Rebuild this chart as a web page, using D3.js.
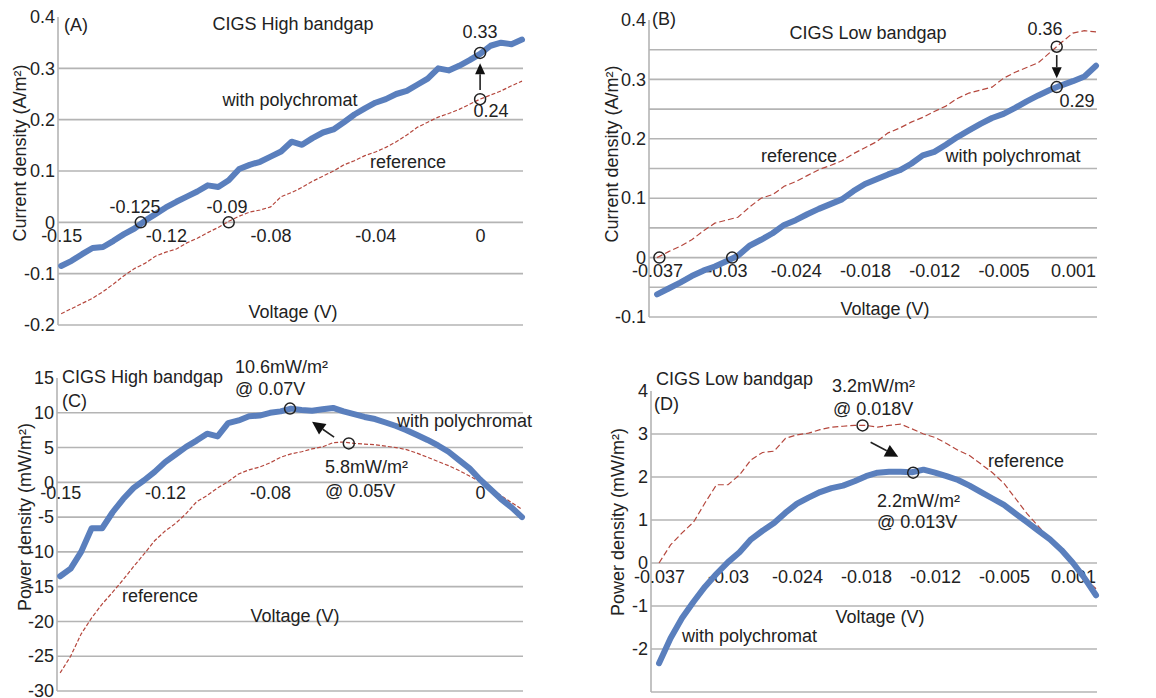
<!DOCTYPE html>
<html>
<head>
<meta charset="utf-8">
<script src="https://cdn.jsdelivr.net/npm/d3@7"></script>
<style>
  body { margin: 0; background: #fff; }
  svg text { font-family: "Liberation Sans", Arial, Helvetica, sans-serif; fill: #222; }
</style>
</head>
<body>
<svg id="chart" width="1156" height="698"></svg>
<script>
// category labels of the voltage axis (Excel style: evenly spaced, rounded)
const highVoltLabels = ['-0.15', '-0.12', '-0.08', '-0.04', '0'];
const highVoltLabelsPower = ['-0.15', '-0.12', '-0.08', '', '0']; // -0.04 sits under the 5.8mW label
const highVoltIdx = [0, 10, 20, 30, 40];
const lowVoltLabels = ['-0.037', '-0.03', '-0.024', '-0.018', '-0.012', '-0.005', '0.001'];
const lowVoltIdx = [0, 6, 12, 18, 24, 30, 36];

// (A) current density, CIGS high bandgap
const currentHighPoly = [-0.085, -0.075, -0.062, -0.05, -0.048, -0.036, -0.023, -0.012, 0.003, 0.016,
  0.029, 0.04, 0.05, 0.06, 0.072, 0.069, 0.082, 0.104, 0.112, 0.118,
  0.128, 0.138, 0.157, 0.151, 0.164, 0.175, 0.181, 0.195, 0.21, 0.222,
  0.233, 0.24, 0.25, 0.256, 0.268, 0.28, 0.3, 0.296, 0.305, 0.316,
  0.328, 0.344, 0.35, 0.347, 0.356];
const currentHighRef = [-0.178, -0.168, -0.158, -0.148, -0.135, -0.12, -0.104, -0.09, -0.08, -0.066,
  -0.058, -0.052, -0.04, -0.031, -0.02, -0.01, 0.002, 0.012, 0.02, 0.024,
  0.03, 0.05, 0.058, 0.068, 0.08, 0.09, 0.1, 0.112, 0.12, 0.13,
  0.137, 0.146, 0.157, 0.17, 0.185, 0.195, 0.205, 0.212, 0.22, 0.23,
  0.24, 0.248, 0.256, 0.266, 0.275];

// (B) current density, CIGS low bandgap
const currentLowPoly = [-0.062, -0.052, -0.042, -0.031, -0.022, -0.015, -0.006, 0.003, 0.02, 0.03,
  0.041, 0.055, 0.063, 0.073, 0.082, 0.09, 0.098, 0.112, 0.124, 0.132,
  0.14, 0.147, 0.158, 0.172, 0.178, 0.19, 0.203, 0.214, 0.225, 0.235,
  0.242, 0.252, 0.263, 0.273, 0.282, 0.29, 0.297, 0.305, 0.323];
const currentLowRef = [0, 0.01, 0.019, 0.03, 0.045, 0.058, 0.063, 0.068, 0.085, 0.1,
  0.106, 0.12, 0.128, 0.138, 0.148, 0.155, 0.163, 0.175, 0.185, 0.195,
  0.21, 0.218, 0.228, 0.236, 0.246, 0.255, 0.268, 0.277, 0.282, 0.287,
  0.302, 0.312, 0.32, 0.328, 0.345, 0.362, 0.378, 0.382, 0.38];

// (C) power density, CIGS high bandgap
const powerHighPoly = [-13.5, -12.4, -10.0, -6.6, -6.6, -4.3, -2.4, -0.8, 0.3, 1.5,
  2.9, 4.0, 5.1, 6.0, 7.0, 6.6, 8.5, 8.9, 9.5, 9.6,
  10.0, 10.2, 10.6, 10.4, 10.3, 10.5, 10.7, 10.2, 9.8, 9.4,
  9.1, 8.6, 8.1, 7.5, 6.8, 6.1, 5.3, 4.4, 3.2, 2.0,
  0.4, -1.0, -2.4, -3.6, -5.0];
const powerHighRef = [-27.4, -25.0, -21.8, -19.5, -17.5, -15.8, -14.0, -12.1, -10.3, -8.4,
  -7.0, -5.9, -4.5, -2.8, -1.9, -0.8, 0.1, 1.2, 1.8, 2.2,
  2.8, 3.6, 4.1, 4.4, 4.8, 5.1, 5.7, 5.8, 5.6, 5.5,
  5.4, 5.2, 5.0, 4.7, 4.2, 3.6, 3.0, 2.4, 1.7, 0.9,
  0.1, -0.9, -1.9, -2.9, -3.9];

// (D) power density, CIGS low bandgap
const powerLowPoly = [-2.33, -1.75, -1.28, -0.9, -0.55, -0.25, 0.02, 0.25, 0.55, 0.75,
  0.93, 1.17, 1.38, 1.52, 1.65, 1.74, 1.8, 1.9, 2.02, 2.1,
  2.12, 2.12, 2.11, 2.17, 2.1, 2.02, 1.93, 1.8, 1.65, 1.5,
  1.35, 1.15, 0.95, 0.75, 0.55, 0.3, 0.0, -0.35, -0.75];
const powerLowRef = [0, 0.42, 0.7, 0.95, 1.4, 1.82, 1.82, 2.05, 2.4, 2.57,
  2.6, 2.9, 2.98, 3.02, 3.1, 3.16, 3.18, 3.2, 3.2, 3.16,
  3.2, 3.23, 3.12, 3.0, 2.92, 2.78, 2.62, 2.5, 2.3, 2.1,
  1.85, 1.5, 1.15, 0.85, 0.55, 0.3, 0.0, -0.35, -0.6];

// value axes
const yTicksA = [-0.2, -0.1, 0, 0.1, 0.2, 0.3, 0.4];
const gridA = [-0.2, -0.1, 0, 0.1, 0.2, 0.3];
const yTicksB = [-0.1, 0, 0.1, 0.2, 0.3, 0.4];
const gridB = [-0.1, -0.05, 0, 0.05, 0.1, 0.15, 0.2, 0.25, 0.3, 0.35];
const yTicksC = [-30, -25, -20, -15, -10, -5, 0, 5, 10, 15];
const gridC = [-30, -25, -20, -15, -10, -5, 0, 5, 10];
const yTicksD = [-2, -1, 0, 1, 2, 3, 4];
const gridD = [-3, -2, -1, 0, 1, 2, 3];

// highlighted points (category index, value)
const pointsA = [[7.6, 0], [16, 0], [40, 0.33], [40, 0.24]];
const pointsB = [[0.2, 0], [6.5, 0], [34.6, 0.355], [34.6, 0.287]];
const pointsC = [[21.9, 10.6], [27.5, 5.6]];
const pointsD = [[17.7, 3.2], [22.1, 2.1]];

// arrows: [from, to] in (category index, value)
const arrowA = [[40, 0.258], [40, 0.31]];
const arrowB = [[34.6, 0.341], [34.6, 0.302]];
const arrowC = [[26.1, 6.5], [24.0, 8.7]];
const arrowD = [[18.4, 2.81], [20.8, 2.47]];

const svg = d3.select('#chart');
const BLUE = '#5a7fbd';
const RED = '#b5473d';

const panels = [
  {
    left: 58, right: 522, gridRight: 523, top: 17, bottom: 325,
    xDomain: [-0.3, 44], yDomain: [-0.2, 0.4],
    xIdx: highVoltIdx, xLabels: highVoltLabels, xPad: 7,
    yTicks: yTicksA, grid: gridA, poly: currentHighPoly, ref: currentHighRef,
    refDash: '4,2', points: pointsA, arrow: arrowA, head: [11, 10],
    yTitle: 'Current density (A/m²)', yTitlePos: [26, 153],
    texts: [
      ['(A)', 64, 31, 'start'], ['CIGS High bandgap', 293, 30, 'middle'],
      ['0.33', 480, 38, 'middle'], ['0.24', 491, 117, 'middle'],
      ['with polychromat', 290, 106, 'middle'], ['reference', 408, 168, 'middle'],
      ['-0.125', 135, 213, 'middle'], ['-0.09', 227, 213, 'middle'],
      ['Voltage (V)', 293, 318, 'middle']
    ]
  },
  {
    left: 649, right: 1096, gridRight: 1097, top: 20, bottom: 317,
    xDomain: [-0.7, 38], yDomain: [-0.1, 0.4],
    xIdx: lowVoltIdx, xLabels: lowVoltLabels, xPad: 7,
    yTicks: yTicksB, grid: gridB, poly: currentLowPoly, ref: currentLowRef,
    refDash: '6,3', points: pointsB, arrow: arrowB, head: [11, 10],
    yTitle: 'Current density (A/m²)', yTitlePos: [618, 154],
    texts: [
      ['(B)', 652, 25, 'start'], ['CIGS Low bandgap', 868, 39, 'middle'],
      ['0.36', 1045, 35, 'middle'], ['0.29', 1077, 107, 'middle'],
      ['reference', 799, 162, 'middle'], ['with polychromat', 1013, 162, 'middle'],
      ['Voltage (V)', 885, 315, 'middle']
    ]
  },
  {
    left: 57, right: 522, gridRight: 523, top: 378, bottom: 691,
    xDomain: [-0.3, 44], yDomain: [-30, 15],
    xIdx: highVoltIdx, xLabels: highVoltLabelsPower, xPad: 4,
    yTicks: yTicksC, grid: gridC, poly: powerHighPoly, ref: powerHighRef,
    refDash: '4,2', points: pointsC, arrow: arrowC, head: [13, 13],
    yTitle: 'Power density (mW/m²)', yTitlePos: [31, 517],
    texts: [
      ['CIGS High bandgap', 62, 383, 'start'], ['(C)', 62, 407, 'start'],
      ['10.6mW/m²', 235, 373, 'start'], ['@ 0.07V', 235, 395, 'start'],
      ['5.8mW/m²', 325, 473, 'start'], ['@ 0.05V', 325, 497, 'start'],
      ['with polychromat', 397, 427, 'start'], ['reference', 122, 602, 'start'],
      ['Voltage (V)', 295, 622, 'middle']
    ]
  },
  {
    left: 651, right: 1096, gridRight: 1097, top: 391, bottom: 692,
    xDomain: [-0.7, 38], yDomain: [-3, 4],
    xIdx: lowVoltIdx, xLabels: lowVoltLabels, xPad: 7,
    yTicks: yTicksD, grid: gridD, poly: powerLowPoly, ref: powerLowRef,
    refDash: '6,3', points: pointsD, arrow: arrowD, head: [13, 13],
    yTitle: 'Power density (mW/m²)', yTitlePos: [624, 522],
    texts: [
      ['CIGS Low bandgap', 656, 385, 'start'], ['(D)', 654, 410, 'start'],
      ['3.2mW/m²', 832, 392, 'start'], ['@ 0.018V', 833, 415, 'start'],
      ['2.2mW/m²', 877, 507, 'start'], ['@ 0.013V', 877, 528, 'start'],
      ['reference', 988, 467, 'start'], ['with polychromat', 682, 642, 'start'],
      ['Voltage (V)', 880, 623, 'middle']
    ]
  }
];

function drawPanel(p) {
  const g = svg.append('g');
  const x = d3.scaleLinear().domain(p.xDomain).range([p.left, p.right]);
  const y = d3.scaleLinear().domain(p.yDomain).range([p.bottom, p.top]);

  g.selectAll('line.grid')
    .data(p.grid)
    .join('line')
    .attr('class', 'grid')
    .attr('x1', p.left).attr('x2', p.gridRight)
    .attr('y1', d => y(d)).attr('y2', d => y(d))
    .attr('stroke', '#b4b4b4')
    .attr('stroke-width', 1.6);

  g.append('line')
    .attr('x1', p.left).attr('x2', p.left)
    .attr('y1', y(p.yDomain[1])).attr('y2', y(p.yDomain[0]))
    .attr('stroke', '#b4b4b4')
    .attr('stroke-width', 1.6);

  const ya = g.append('g')
    .attr('transform', `translate(${p.left},0)`)
    .call(d3.axisLeft(y).tickValues(p.yTicks).tickSize(0).tickPadding(3).tickFormat(d => String(d)));
  ya.select('.domain').remove();
  ya.attr('font-size', 18);

  const xa = g.append('g')
    .attr('transform', `translate(0,${y(0)})`)
    .call(d3.axisBottom(x).tickValues(p.xIdx).tickSize(0).tickPadding(p.xPad)
      .tickFormat((d, i) => p.xLabels[i]));
  xa.select('.domain').remove();
  xa.attr('font-size', 18);

  const line = d3.line().x((d, i) => x(i)).y(d => y(d));

  g.append('path')
    .datum(p.ref)
    .attr('d', line)
    .attr('fill', 'none')
    .attr('stroke', RED)
    .attr('stroke-width', 1.2)
    .attr('stroke-dasharray', p.refDash);

  g.append('path')
    .datum(p.poly)
    .attr('d', line)
    .attr('fill', 'none')
    .attr('stroke', BLUE)
    .attr('stroke-width', 6)
    .attr('stroke-linejoin', 'round')
    .attr('stroke-linecap', 'round');

  g.selectAll('circle.pt')
    .data(p.points)
    .join('circle')
    .attr('class', 'pt')
    .attr('cx', d => x(d[0]))
    .attr('cy', d => y(d[1]))
    .attr('r', 5.5)
    .attr('fill', 'none')
    .attr('stroke', '#222')
    .attr('stroke-width', 1.5);

  // arrow with filled head
  const [a0, a1] = p.arrow;
  const sx = x(a0[0]), sy = y(a0[1]), tx = x(a1[0]), ty = y(a1[1]);
  const ang = Math.atan2(ty - sy, tx - sx);
  const [hl, hw] = p.head;
  const bx = tx - hl * Math.cos(ang), by = ty - hl * Math.sin(ang);
  g.append('line')
    .attr('x1', sx).attr('y1', sy).attr('x2', bx).attr('y2', by)
    .attr('stroke', '#222').attr('stroke-width', 1.6);
  g.append('path')
    .attr('d', `M${tx},${ty}L${bx + hw / 2 * Math.sin(ang)},${by - hw / 2 * Math.cos(ang)}L${bx - hw / 2 * Math.sin(ang)},${by + hw / 2 * Math.cos(ang)}Z`)
    .attr('fill', '#111');

  g.selectAll('text.note')
    .data(p.texts)
    .join('text')
    .attr('class', 'note')
    .attr('x', d => d[1])
    .attr('y', d => d[2])
    .attr('text-anchor', d => d[3])
    .attr('font-size', 18)
    .text(d => d[0]);

  g.append('text')
    .attr('transform', `translate(${p.yTitlePos[0]},${p.yTitlePos[1]}) rotate(-90)`)
    .attr('text-anchor', 'middle')
    .attr('font-size', 18)
    .text(p.yTitle);
}

panels.forEach(drawPanel);
</script>
</body>
</html>
